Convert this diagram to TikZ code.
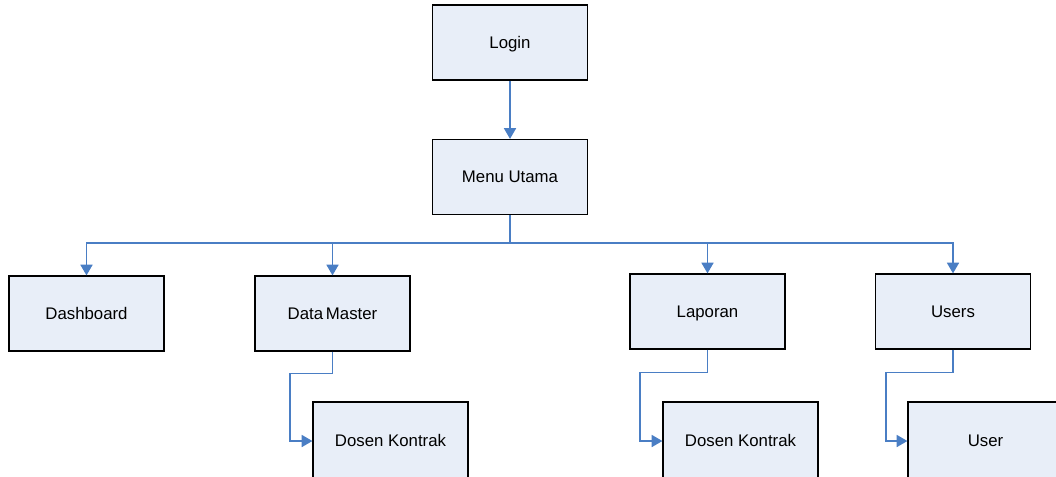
\documentclass[tikz,border=0pt]{standalone}
\usepackage{fontspec}
\setmainfont{Liberation Sans}
\usetikzlibrary{arrows.meta}
\definecolor{boxfill}{HTML}{E8EEF8}
\definecolor{linkblue}{HTML}{4A7EC4}
\begin{document}
\begin{tikzpicture}[x=0.75pt,y=-0.75pt,
  menubox/.style={draw=black, line width=0.9pt, fill=boxfill, rectangle,
    minimum width=116.25pt, minimum height=56.25pt, inner sep=0pt,
    text height=9pt, text depth=0.6pt,
    font=\fontsize{12.6}{15}\selectfont},
  lowbox/.style={menubox, minimum height=58.5pt},
  link/.style={draw=linkblue, line width=1.1pt,
    -{Triangle[length=8pt,width=9pt]}}]
\useasboundingbox (0,0) rectangle (1056,476);
\clip (0,0) rectangle (1056,476);
\node[menubox] (login) at (510,42.5) {Login};
\node[menubox] (menu) at (510,177) {Menu Utama};
\node[menubox] (dash) at (86.5,313.5) {Dashboard};
\node[menubox] (dm) at (332.5,313.5) {Data\,Master};
\node[menubox] (lap) at (707.5,311.5) {Laporan};
\node[menubox] (users) at (953,311.5) {Users};
\node[lowbox] (dk1) at (390.5,441) {Dosen Kontrak};
\node[lowbox] (dk2) at (740.5,441) {Dosen Kontrak};
\node[lowbox] (user) at (985.5,441) {User};
\coordinate (bus) at (510,243);
\draw[link] (login.south) -- (menu.north);
\draw[link] (menu.south) -- (bus) -| (dash.north);
\draw[link] (menu.south) -- (bus) -| (dm.north);
\draw[link] (menu.south) -- (bus) -| (lap.north);
\draw[link] (menu.south) -- (bus) -| (users.north);
\draw[link] (dm.south) -- ++(0,22) -- ++(-42.5,0) |- (dk1.west);
\draw[link] (lap.south) -- ++(0,23) -- ++(-67.5,0) |- (dk2.west);
\draw[link] (users.south) -- ++(0,23) -- ++(-67,0) |- (user.west);
\end{tikzpicture}
\end{document}
